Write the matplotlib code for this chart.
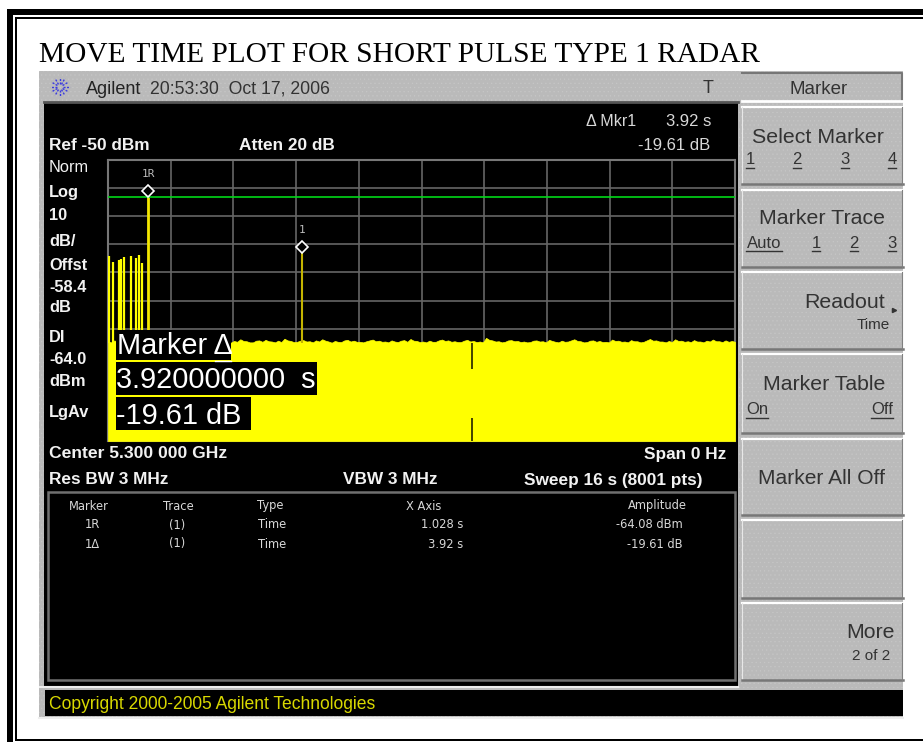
#!/usr/bin/env python3
import matplotlib
matplotlib.use("Agg")
import matplotlib.pyplot as plt
import numpy as np
from matplotlib.patches import Rectangle

W, H = 923, 742
SANS = "Liberation Sans"
SERIF = "Liberation Serif"
PANEL = "#bababa"
plt.rcParams["hatch.linewidth"] = 0.4

# trace data (seconds, dBm on the display scale)
pulse_times = [0.03, 0.135, 0.29, 0.34, 0.415, 0.58, 0.715, 0.79, 0.86]
pulse_levels = [-84.3, -86.3, -85.5, -85.3, -84.5, -84.0, -84.8, -83.8, -86.7]
ref_time, ref_level = 1.028, -61.0
delta_time, delta_level = 4.948, -81.0
display_line = -63.2
dropout_time = 9.288
dropout_low, dropout_high = -141.8, -124.3
floor_level = [
    -114.6, -114.9, -114.2, -114.7, -114.8, -114.3, -114.4, -115.0, -113.9, -114.6,
    -114.7, -114.2, -114.3, -114.9, -114.9, -114.4, -114.1, -114.7, -114.5, -114.9,
    -114.0, -114.5, -114.6, -115.0, -114.8, -114.3, -114.2, -114.8, -113.7, -114.4,
    -114.5, -114.9, -114.3, -114.7, -114.7, -114.2, -114.1, -114.6, -114.6, -115.0,
    -114.4, -114.7, -113.8, -114.4, -114.5, -114.9, -114.9, -114.3, -114.2, -114.7,
    -114.0, -114.5, -114.6, -114.9, -114.3, -114.8, -113.6, -114.2, -114.4, -114.8,
    -114.7, -114.3, -114.1, -114.6, -114.5, -114.9, -114.2, -114.6, -113.8, -114.3,
    -114.6, -115.0, -114.4, -114.7, -114.8, -114.2, -114.0, -114.6, -114.3, -114.7,
    -114.7, -114.9, -114.5, -114.2, -113.9, -114.5, -114.3, -114.7, -114.6, -114.9,
    -114.2, -114.6, -114.8, -114.3, -114.1, -114.7, -113.7, -114.3, -114.4, -114.8,
    -114.6, -114.9, -114.3, -114.7, -114.7, -114.2, -113.9, -114.4, -114.2, -114.7,
    -114.5, -114.8, -114.8, -114.3, -114.0, -114.6, -114.4, -114.8, -114.6, -114.9,
    -113.3, -114.0, -114.2, -114.6, -114.5, -114.9, -114.7, -114.2, -114.1, -114.5,
    -114.4, -114.8, -114.6, -114.9, -114.8, -114.3, -114.2, -114.6, -114.5, -114.9,
    -114.0, -114.4, -114.7, -114.9, -114.3, -114.7, -114.6, -114.2, -113.8, -114.4,
    -114.5, -114.9, -114.8, -114.3, -114.2, -114.7, -114.4, -114.8, -114.7, -114.9,
    -113.9, -114.4, -114.3, -114.7, -114.6, -114.9, -114.1, -114.5, -114.5, -114.9,
    -114.7, -114.2, -113.7, -114.3, -114.2, -114.6, -114.6, -114.9, -114.4, -114.8,
    -113.8, -114.4, -114.3, -114.7, -114.5, -114.8, -114.1, -114.6, -114.6, -114.9,
    -114.3, -114.6, -113.9, -114.5, -114.5, -114.8, -114.2, -114.7, -114.4, -114.7,
]

left_labels = [
    ("Norm", 168, "normal"), ("Log", 192, "bold"), ("10", 216, "bold"),
    ("dB/", 241, "bold"), ("Offst", 265, "bold"), ("-58.4", 287, "bold"),
    ("dB", 308, "bold"), ("DI", 338, "bold"), ("-64.0", 360, "bold"),
    ("dBm", 382, "bold"), ("LgAv", 413, "bold"),
]
table_headers = [("Marker", 89), ("Trace", 178), ("Type", 270), ("X Axis", 424), ("Amplitude", 657)]
table_rows = [
    ("1R", "(1)", "Time", "1.028 s", "-64.08 dBm", 525),
    ("1\u0394", "(1)", "Time", "3.92 s", "-19.61 dB", 544),
]
softkey_tops = [107, 190, 272, 354, 439, 520, 603]
softkey_bottoms = [184, 267, 349, 433, 515, 598, 680]


def rect(ax, x0, y0, x1, y1, color, zorder=1, **kw):
    ax.add_patch(Rectangle((x0, y0), x1 - x0, y1 - y0, facecolor=color, edgecolor="none", zorder=zorder, **kw))


def stipple(ax, x0, y0, x1, y1, zorder=1):
    # the grey panels have a faint dot pattern
    ax.add_patch(Rectangle((x0, y0), x1 - x0, y1 - y0, facecolor=PANEL, edgecolor="#c6c6c6", hatch="....", lw=0, zorder=zorder))


def label(ax, x, y, s, size=12.4, weight="normal", color="black", ha="left", family=SANS, zorder=5):
    # center_baseline sits a bit low, pull it back up
    ax.text(x, y - 1.5, s, fontsize=size, fontweight=weight, color=color, ha=ha, va="center_baseline", family=family, zorder=zorder)


def softkey(ax, top, bottom):
    stipple(ax, 742, top, 903, bottom, zorder=2)
    ax.plot([742, 902], [top, top], color="white", lw=1.6, zorder=3)
    ax.plot([742, 742], [top, bottom], color="#e8e8e8", lw=0.8, zorder=3)
    ax.plot([742, 903], [bottom, bottom], color="#777777", lw=1.8, zorder=3)
    ax.plot([902, 902], [top, bottom], color="#808080", lw=0.8, zorder=3)


fig = plt.figure(figsize=(W / 100, H / 100), dpi=100, facecolor="white")

bg = fig.add_axes([0, 0, 1, 1], zorder=0)
bg.set_xlim(0, W)
bg.set_ylim(H, 0)
bg.axis("off")

# page frame, runs off the right side of the image
rect(bg, 7, 9, W, 15, "black")
rect(bg, 15, 17, W, 19, "black")
rect(bg, 7, 9, 13, H, "black")
rect(bg, 15, 17, 17, 741, "black")
rect(bg, 15, 739, W, 741, "black")

label(bg, 39, 54, "MOVE TIME PLOT FOR SHORT PULSE TYPE 1 RADAR", size=21.2, family=SERIF)

# instrument panel
stipple(bg, 39, 71, 903, 718)
rect(bg, 44, 103, 738, 686, "black", zorder=2)
bg.plot([44, 738], [102, 102], color="#555555", lw=2, zorder=3)
bg.plot([40, 738], [687, 687], color="#eeeeee", lw=1.5, zorder=3)
rect(bg, 45, 690, 903, 716, "black", zorder=2)
bg.plot([39, 903], [718, 718], color="#eeeeee", lw=1.5, zorder=3)

# logo
for ang in np.arange(0, 360, 30):
    ca, sa = np.cos(np.radians(ang)), np.sin(np.radians(ang))
    bg.plot([60 + 3 * ca, 60 + 10 * ca], [87 + 3 * sa, 87 + 10 * sa], color="#3a3ae0", lw=1, ls=(0, (1.5, 1)), zorder=3)
label(bg, 86, 89, "Agilent", size=13, color="#222222")
label(bg, 150, 89, "20:53:30  Oct 17, 2006", size=12.7, color="#333333")
label(bg, 708, 88, "T", size=13, color="#333333", ha="center")

# softkeys
stipple(bg, 742, 73, 903, 101, zorder=2)
bg.plot([742, 902, 902], [73, 73, 101], color="#777777", lw=1.5, zorder=3)
bg.plot([742, 903], [101, 101], color="white", lw=2, zorder=3)
for t, b in zip(softkey_tops, softkey_bottoms):
    softkey(bg, t, b)
KEY = "#333333"
label(bg, 819, 89, "Marker", size=13.5, color=KEY, ha="center")
label(bg, 818, 137, "Select Marker", size=15.4, color=KEY, ha="center")
label(bg, 822, 218, "Marker Trace", size=15.4, color=KEY, ha="center")
label(bg, 885, 302, "Readout", size=15.4, color=KEY, ha="right")
label(bg, 890, 325, "Time", size=11, color=KEY, ha="right")
bg.plot([894], [310], marker=">", ms=3, color=KEY, zorder=5)
label(bg, 824, 384, "Marker Table", size=15.3, color=KEY, ha="center")
label(bg, 822, 478, "Marker All Off", size=15.1, color=KEY, ha="center")
label(bg, 895, 632, "More", size=15.3, color=KEY, ha="right")
label(bg, 890, 656, "2 of 2", size=11, color=KEY, ha="right")
for s, x, y in [("1", 750, 160), ("2", 797, 160), ("3", 845, 160), ("4", 892, 160),
                ("Auto", 764, 243), ("1", 816, 243), ("2", 854, 243), ("3", 892, 243),
                ("On", 757, 410), ("Off", 882, 410)]:
    bg.text(x, y, s, fontsize=12, color=KEY, ha="center", va="center", family=SANS, zorder=5)
    half = {"Auto": 18, "On": 11, "Off": 11}.get(s, 4)
    bg.plot([x - half, x + half], [y + 8, y + 8], color=KEY, lw=1, zorder=5)

# screen annotations
LIGHT = "#d8d8d8"
BRIGHT = "#f2f2f2"
label(bg, 586, 121, "\u0394 Mkr1", size=11.5, color=LIGHT)
label(bg, 711, 121, "3.92 s", size=12, color=LIGHT, ha="right")
label(bg, 710, 146, "-19.61 dB", size=12, color=LIGHT, ha="right")
label(bg, 49, 146, "Ref -50 dBm", weight="bold", color=BRIGHT)
label(bg, 239, 146, "Atten 20 dB", weight="bold", color=BRIGHT)
for s, y, w in left_labels:
    label(bg, 49, y, s, size=11.8, weight=w, color=BRIGHT)
label(bg, 49, 454, "Center 5.300 000 GHz", size=12.6, weight="bold", color=BRIGHT)
label(bg, 726, 454, "Span 0 Hz", weight="bold", color=BRIGHT, ha="right")
label(bg, 49, 480, "Res BW 3 MHz", weight="bold", color=BRIGHT)
label(bg, 343, 480, "VBW 3 MHz", weight="bold", color=BRIGHT)
label(bg, 702, 480, "Sweep 16 s (8001 pts)", weight="bold", color=BRIGHT, ha="right")
label(bg, 49, 704, "Copyright 2000-2005 Agilent Technologies", size=12.65, color="#d8d800")

# marker table
TABLE = "DejaVu Sans"
bg.add_patch(Rectangle((48, 492), 687, 188, facecolor="none", edgecolor="#707070", lw=1.8, zorder=3))
for s, x in table_headers:
    label(bg, x, 506, s, size=8.3, color=LIGHT, ha="center", family=TABLE)
for mk, tr, ty, xv, amp, y in table_rows:
    label(bg, 92, y, mk, size=8.3, color=LIGHT, ha="center", family=TABLE)
    label(bg, 177, y, tr, size=8.3, color=LIGHT, ha="center", family=TABLE)
    label(bg, 272, y, ty, size=8.3, color=LIGHT, ha="center", family=TABLE)
    label(bg, 463, y, xv, size=8.3, color=LIGHT, ha="right", family=TABLE)
    label(bg, 683, y, amp, size=8.3, color=LIGHT, ha="right", family=TABLE)

# trace graticule, 16 s across and 100 dB down from the reference level
ax = fig.add_axes([108 / W, 1 - 441 / H, (735 - 108) / W, (441 - 160) / H], zorder=1)
ax.set_facecolor("black")
ax.set_xlim(0, 16)
ax.set_ylim(-150, -50)
ax.set_xticks(np.arange(0, 16.1, 1.6))
ax.set_yticks(np.arange(-150, -49, 10))
ax.tick_params(left=False, bottom=False, labelleft=False, labelbottom=False)
ax.grid(True, color="#666666", lw=1.2)
ax.set_axisbelow(True)
for sp in ax.spines.values():
    sp.set_color("#777777")
    sp.set_linewidth(1.5)

floor_t = np.linspace(0, 16, len(floor_level))
ax.fill_between(floor_t, -150, floor_level, color="#ffff00", lw=0.5, zorder=3)
ax.vlines(pulse_times, -115, pulse_levels, color="#ffff00", lw=1.6, zorder=3)
ax.vlines([ref_time], -115, [ref_level], color="#f4e800", lw=2, zorder=3)
ax.vlines([delta_time], -115, [delta_level], color="#c4b400", lw=1.5, zorder=3)
ax.axhline(display_line, color="#00d818", lw=1.2, zorder=4)
ax.vlines([dropout_time], -115, dropout_high, color="#222200", lw=1.2, zorder=5)
ax.vlines([dropout_time], dropout_low, -150, color="#222200", lw=1.2, zorder=5)
ax.plot([ref_time, delta_time], [ref_level, delta_level], ls="none", marker="D", ms=6.5,
        mfc="black", mec="white", mew=1.2, zorder=6)
ax.text(ref_time, -55, "1R", fontsize=8, color="#bbbbbb", ha="center", va="center", family="DejaVu Sans Mono", zorder=6)
ax.text(delta_time, -75, "1", fontsize=8, color="#bbbbbb", ha="center", va="center", family="DejaVu Sans Mono", zorder=6)

# marker popup sits on top of the trace
top = fig.add_axes([0, 0, 1, 1], zorder=2)
top.set_xlim(0, W)
top.set_ylim(H, 0)
top.axis("off")
rect(top, 116, 330, 231, 360, "black", zorder=2)
rect(top, 116, 362, 317, 395, "black", zorder=2)
rect(top, 116, 397, 251, 430, "black", zorder=2)
label(top, 117, 345, "Marker \u0394", size=20.8, color="white")
top.plot([215, 231], [361, 361], color="white", lw=1, zorder=5)
label(top, 116, 379, "3.920000000  s", size=20.8, color="white")
label(top, 116, 414, "-19.61 dB", size=20.8, color="white")

fig.savefig("out.png", dpi=100)
